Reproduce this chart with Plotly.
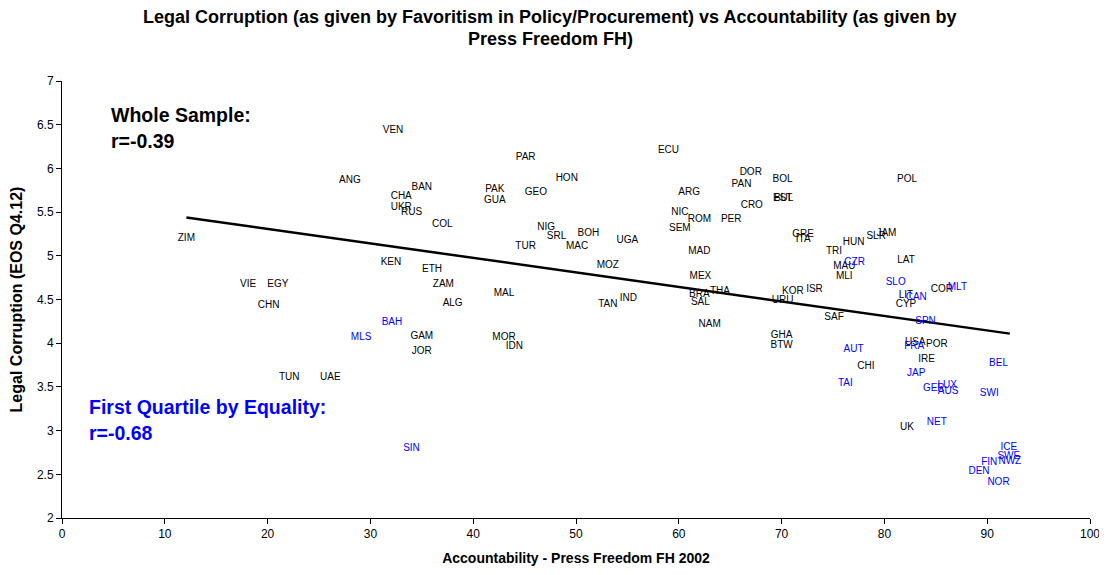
import plotly.graph_objects as go

# ---- data ----
black_labels = ["VEN","ANG","BAN","CHA","UKR","RUS","COL","ZIM","KEN","ETH","VIE","EGY","ZAM","ALG","CHN",
                "GAM","JOR","TUN","UAE","PAR","ECU","HON","PAK","GEO","GUA","ARG","DOR","PAN","CRO","NIC",
                "ROM","PER","SEM","NIG","SRL","BOH","MAC","TUR","UGA","MAD","MOZ","MEX","MAL","BRA","THA",
                "SAL","TAN","IND","NAM","MOR","IDN","GHA","BTW","BOL","POL","EST","BUL","GRE","ITA","HUN",
                "SLR","JAM","TRI","LAT","MAU","MLI","COR","KOR","ISR","URU","LIT","CYP","SAF","USA","POR",
                "IRE","CHI","UK"]
black_x = [32.2,28.0,35.0,33.0,33.0,34.0,37.0,12.1,32.0,36.0,18.1,21.0,37.1,38.0,20.1,
           35.0,35.0,22.1,26.1,45.1,59.0,49.1,42.1,46.1,42.1,61.0,67.0,66.1,67.1,60.1,
           62.0,65.1,60.1,47.1,48.1,51.2,50.1,45.1,55.0,62.0,53.1,62.1,43.0,62.0,64.0,
           62.1,53.1,55.1,63.0,43.0,44.0,70.0,70.0,70.1,82.2,70.1,70.2,72.1,72.1,77.0,
           79.2,80.2,75.1,82.1,76.1,76.1,85.6,71.1,73.2,70.1,82.1,82.1,75.1,83.0,85.1,
           84.1,78.2,82.2]
black_y = [6.43,5.86,5.78,5.68,5.55,5.50,5.36,5.20,4.92,4.84,4.67,4.67,4.67,4.46,4.43,
           4.08,3.91,3.61,3.61,6.13,6.21,5.89,5.76,5.72,5.63,5.73,5.95,5.82,5.57,5.49,
           5.42,5.41,5.31,5.32,5.22,5.25,5.11,5.11,5.18,5.05,4.89,4.76,4.57,4.56,4.59,
           4.47,4.44,4.51,4.21,4.07,3.96,4.09,3.97,5.87,5.87,5.66,5.65,5.24,5.19,5.15,
           5.22,5.26,5.05,4.95,4.88,4.76,4.61,4.59,4.62,4.49,4.55,4.44,4.29,4.01,3.98,
           3.81,3.73,3.04]

blue_labels = ["BAH","MLS","SIN","CZR","SLO","MLT","CAN","SPN","AUT","FRA","BEL","JAP","TAI","GER",
               "LUX","AUS","SWI","NET","ICE","SWE","NWZ","FIN","DEN","NOR"]
blue_x = [32.1,29.1,34.0,77.1,81.1,87.1,83.1,84.0,77.0,82.9,91.1,83.1,76.2,84.8,
          86.1,86.2,90.2,85.1,92.1,92.1,92.2,90.2,89.2,91.1]
blue_y = [4.24,4.07,2.80,4.92,4.70,4.64,4.52,4.25,3.93,3.96,3.77,3.65,3.54,3.48,
          3.52,3.45,3.42,3.09,2.81,2.70,2.65,2.63,2.53,2.41]

# whole-sample trend line coefficients
trend_intercept = 5.64
trend_slope = -0.0166

x_ticks = [0,10,20,30,40,50,60,70,80,90,100]
y_ticks = [2,2.5,3,3.5,4,4.5,5,5.5,6,6.5,7]
y_tick_text = ["2","2.5","3","3.5","4","4.5","5","5.5","6","6.5","7"]

title_lines = ["Legal Corruption (as given by Favoritism in Policy/Procurement) vs Accountability (as given by",
               "Press Freedom FH)"]

FONT = "Liberation Sans, Arial, sans-serif"
BLUE = "#0000FF"

all_x = black_x + blue_x
x0, x1 = min(all_x), max(all_x)

fig = go.Figure()
fig.add_trace(go.Scatter(
    x=[x0, x1], y=[trend_intercept + trend_slope * x0, trend_intercept + trend_slope * x1],
    mode="lines", line=dict(color="black", width=2.5), hoverinfo="skip", showlegend=False))
fig.add_trace(go.Scatter(
    x=black_x, y=black_y, text=black_labels, mode="text", textposition="middle center",
    textfont=dict(family=FONT, size=10, color="black"), showlegend=False))
fig.add_trace(go.Scatter(
    x=blue_x, y=blue_y, text=blue_labels, mode="text", textposition="middle center",
    textfont=dict(family=FONT, size=10, color=BLUE), showlegend=False))

annots = [
    dict(x=4.6, y=6.61, text="<b>Whole Sample:</b>", color="black"),
    dict(x=4.6, y=6.31, text="<b>r=-0.39</b>", color="black"),
    dict(x=2.4, y=3.27, text="<b>First Quartile by Equality:</b>", color=BLUE),
    dict(x=2.4, y=2.97, text="<b>r=-0.68</b>", color=BLUE),
]
for a in annots:
    fig.add_annotation(x=a["x"], y=a["y"], xref="x", yref="y", text=a["text"], showarrow=False,
                       xanchor="left", yanchor="middle",
                       font=dict(family=FONT, size=19.5, color=a["color"]))

# title as two centred lines
for line, shift in zip(title_lines, [64, 42]):
    fig.add_annotation(x=0.475, y=1, xref="paper", yref="paper", yshift=shift, text="<b>" + line + "</b>",
                       showarrow=False, xanchor="center", yanchor="middle",
                       font=dict(family=FONT, size=18, color="black"))

# the page body has an 8px default margin, so the figure is offset by it
fig.update_layout(
    width=1099, height=559,
    paper_bgcolor="white", plot_bgcolor="white",
    margin=dict(l=54, r=17, t=73, b=49, autoexpand=False),
    font=dict(family=FONT, color="black"),
    xaxis=dict(range=[0, 100], tickvals=x_ticks, ticks="outside", ticklen=5, tickcolor="black",
               showline=True, linecolor="black", linewidth=1, showgrid=False, zeroline=False,
               automargin=False, tickfont=dict(size=12, family=FONT),
               title=dict(text="<b>Accountability - Press Freedom FH 2002</b>", font=dict(size=14, family=FONT), standoff=12)),
    yaxis=dict(range=[2, 7], tickvals=y_ticks, ticktext=y_tick_text, ticks="outside", ticklen=5, tickcolor="black",
               showline=True, linecolor="black", linewidth=1, showgrid=False, zeroline=False,
               automargin=False, tickfont=dict(size=12, family=FONT),
               title=dict(text="<b>Legal Corruption (EOS Q4.12)</b>", font=dict(size=16, family=FONT), standoff=14)),
)

fig.write_html("out.html")
